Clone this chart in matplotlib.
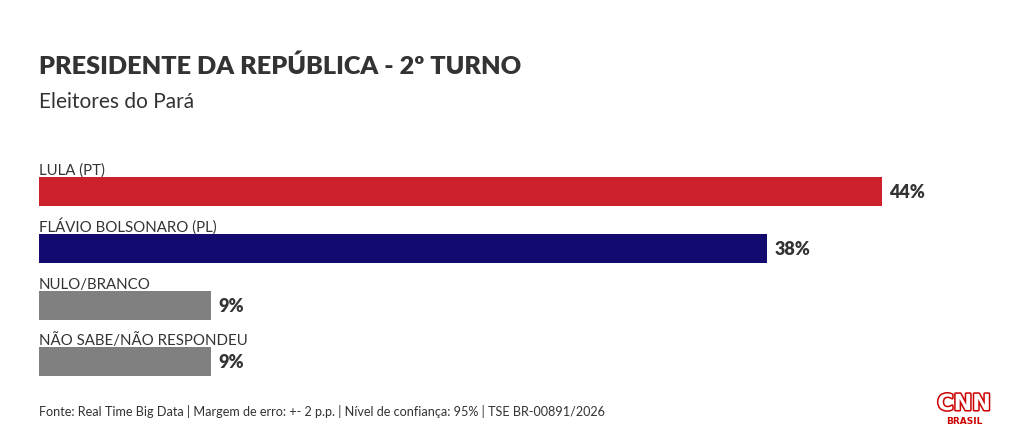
import matplotlib
matplotlib.use("Agg")
import matplotlib.pyplot as plt
import matplotlib.patheffects as pe

categories = ["LULA (PT)", "FLÁVIO BOLSONARO (PL)", "NULO/BRANCO", "NÃO SABE/NÃO RESPONDEU"]
values = [44, 38, 9, 9]
colors = ["#CC212B", "#130A6F", "#808080", "#808080"]
value_labels = ["44%", "38%", "9%", "9%"]

title = "PRESIDENTE DA REPÚBLICA - 2º TURNO"
subtitle = "Eleitores do Pará"
footer = "Fonte: Real Time Big Data | Margem de erro: +- 2 p.p. | Nível de confiança: 95% | TSE BR-00891/2026"

FONT = "Lato"
TXT = "#333333"
W, H = 1020, 439
fig = plt.figure(figsize=(W / 100, H / 100), dpi=100)
fig.patch.set_facecolor("white")

# axes from px x=39..959 and y=150..390
ax = fig.add_axes([39 / W, 1 - 390 / H, 920 / W, 240 / H])
ax.set_xlim(0, 48)
ax.set_ylim(3.477, -0.748)
ax.axis("off")

bh = 29 / 56.8
ypos = list(range(len(categories)))
ax.barh(ypos, values, height=bh, color=colors)
for y, cat, v, lab in zip(ypos, categories, values, value_labels):
    ax.text(0, y - bh / 2 - 3 / 56.8, cat, family=FONT, fontsize=10.8, color=TXT,
            ha="left", va="baseline")
    ax.text(v + 0.37, y, lab, family=FONT, fontsize=13, fontweight="heavy", color=TXT,
            ha="left", va="center")

fig.text(39 / W, 1 - 66 / H, title, family=FONT, fontsize=18.2, fontweight="heavy",
         color=TXT, ha="left", va="center")
fig.text(39 / W, 1 - 102 / H, subtitle, family=FONT, fontsize=15, color=TXT,
         ha="left", va="center")
fig.text(39 / W, 1 - 412 / H, footer, family=FONT, fontsize=9.1, color=TXT,
         ha="left", va="center")

# CNN Brasil logo (approximation)
fig.text(964 / W, 1 - 405 / H, "CNN", family="DejaVu Sans", fontsize=16,
         fontweight="bold", color="white", ha="center", va="center",
         path_effects=[pe.Stroke(linewidth=2.2, foreground="#CC0000"), pe.Normal()])
fig.text(964 / W, 1 - 422 / H, "BRASIL", family="DejaVu Sans", fontsize=6.5,
         fontweight="bold", color="#CC0000", ha="center", va="center")

fig.savefig("out.png", dpi=100, facecolor="white")
